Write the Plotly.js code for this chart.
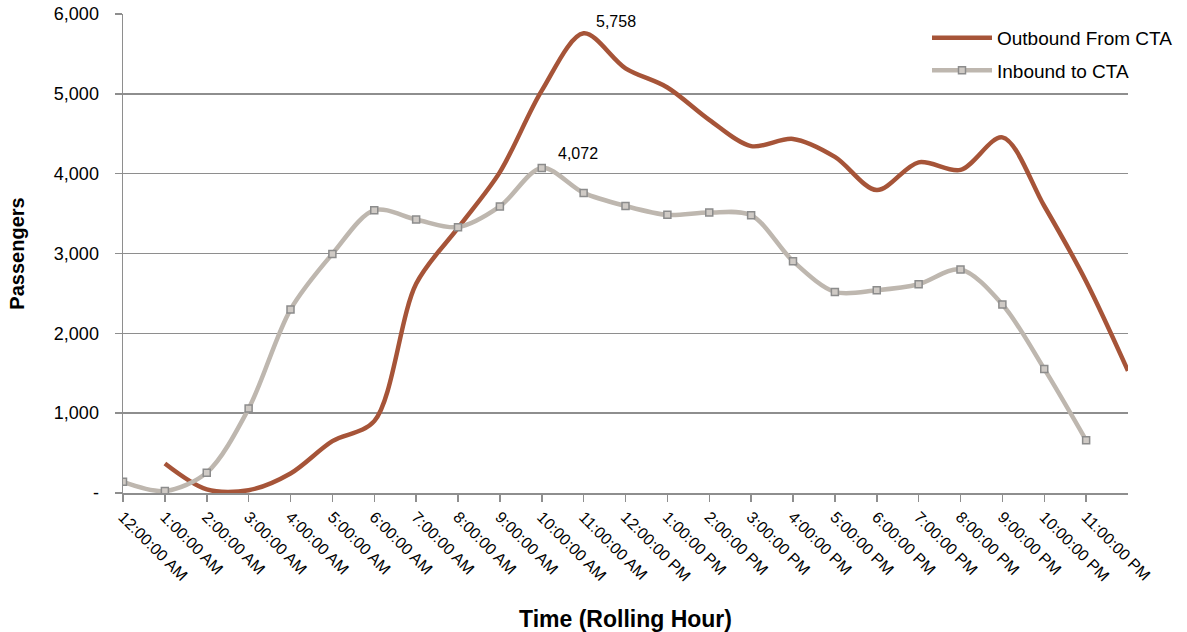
<!DOCTYPE html>
<html>
<head>
<meta charset="utf-8">
<script src="https://cdn.plot.ly/plotly-3.0.1.min.js"></script>
<style>
  html, body { margin: 0; padding: 0; background: #ffffff; }
  #chart { width: 1187px; height: 632px; }
</style>
</head>
<body>
<div id="chart"></div>
<script>
// Rolling-hour categories (x axis)
const timeLabels = [
  "12:00:00 AM", "1:00:00 AM", "2:00:00 AM", "3:00:00 AM", "4:00:00 AM", "5:00:00 AM",
  "6:00:00 AM", "7:00:00 AM", "8:00:00 AM", "9:00:00 AM", "10:00:00 AM", "11:00:00 AM",
  "12:00:00 PM", "1:00:00 PM", "2:00:00 PM", "3:00:00 PM", "4:00:00 PM", "5:00:00 PM",
  "6:00:00 PM", "7:00:00 PM", "8:00:00 PM", "9:00:00 PM", "10:00:00 PM", "11:00:00 PM"
];

// Inbound to CTA: one value per hour, starting at 12:00:00 AM
const inboundValues = [
  140, 25, 255, 1057, 2298, 2995, 3543, 3426, 3330, 3590, 4072, 3759,
  3596, 3484, 3514, 3480, 2904, 2519, 2540, 2615, 2800, 2361, 1554, 660
];

// Outbound From CTA: one value per hour, starting one hour later (1:00:00 AM)
const outboundValues = [
  370, 45, 35, 245, 650, 900, 2620, 3320, 4020, 5040, 5758, 5320,
  5080, 4675, 4345, 4435, 4210, 3795, 4142, 4047, 4455, 3595, 2650, 1530
];
const outboundStartHour = 1;

// Y-axis tick labels (accounting style, zero shown as a dash)
const yTickValues = [0, 1000, 2000, 3000, 4000, 5000, 6000];
const yTickLabels = ["-", "1,000", "2,000", "3,000", "4,000", "5,000", "6,000"];

const hourIndex = timeLabels.map((_, i) => i);
const inboundX = inboundValues.map((_, i) => i);
const outboundX = outboundValues.map((_, i) => i + outboundStartHour);

const FONT = "Liberation Sans, Arial, sans-serif";
const GRID = "#8E8E8E";

const outboundTrace = {
  x: outboundX, y: outboundValues,
  type: "scatter", mode: "lines",
  name: "Outbound From CTA",
  legendgroup: "a",
  line: { color: "#A65438", width: 4.5, shape: "spline", smoothing: 0.9 }
};

const inboundTrace = {
  x: inboundX, y: inboundValues,
  type: "scatter", mode: "lines+markers",
  name: "Inbound to CTA",
  legendgroup: "b",
  line: { color: "#BEB7AF", width: 4.5, shape: "spline", smoothing: 0.9 },
  marker: { symbol: "square", size: 7, color: "#CFCAC5", line: { color: "#8C8C8C", width: 1.5 } }
};

// Peak annotations computed from the data
function peakOf(xs, ys) {
  let k = 0;
  ys.forEach((v, i) => { if (v > ys[k]) k = i; });
  return { x: xs[k], y: ys[k] };
}
const outPeak = peakOf(outboundX, outboundValues);
const inPeak = peakOf(inboundX, inboundValues);
const fmt = v => v.toLocaleString("en-US");

const layout = {
  width: 1187, height: 632,
  paper_bgcolor: "#ffffff", plot_bgcolor: "#ffffff",
  margin: { l: 123, r: 59, t: 14, b: 139, autoexpand: false },
  font: { family: FONT, color: "#000000" },
  showlegend: true,
  legend: {
    x: 0.80, y: 0.99, xanchor: "left", yanchor: "top",
    font: { family: FONT, size: 19, color: "#000000" },
    bgcolor: "rgba(0,0,0,0)",
    itemwidth: 60,
    traceorder: "grouped", tracegroupgap: 5
  },
  xaxis: {
    type: "linear",
    range: [0, 24],
    automargin: false,
    tickmode: "array",
    tickvals: hourIndex,
    ticktext: timeLabels,
    tickangle: 45,
    ticks: "outside", ticklen: 7, tickwidth: 1.5, tickcolor: GRID,
    showline: true, linecolor: GRID, linewidth: 1.5,
    showgrid: false, zeroline: false,
    tickfont: { family: FONT, size: 16, color: "#000000" },
    title: { text: "<b>Time (Rolling Hour)</b>", font: { family: FONT, size: 23, color: "#000000" }, standoff: 28 },
    fixedrange: true
  },
  yaxis: {
    range: [0, 6000],
    automargin: false,
    tickmode: "array",
    tickvals: yTickValues,
    ticktext: yTickLabels,
    ticks: "outside", ticklen: 7, tickwidth: 1.5, tickcolor: GRID,
    showline: true, linecolor: GRID, linewidth: 1.5,
    showgrid: true, gridcolor: GRID, gridwidth: 1.5,
    zeroline: false,
    ticklabelstandoff: 12,
    tickfont: { family: FONT, size: 18, color: "#000000" },
    title: { text: "<b>Passengers</b>", font: { family: FONT, size: 20, color: "#000000" }, standoff: 24 },
    fixedrange: true
  },
  annotations: [
    { x: outPeak.x, y: outPeak.y, xref: "x", yref: "y", text: fmt(outPeak.y), showarrow: false,
      xshift: 32, yshift: 12, font: { family: FONT, size: 16, color: "#000000" } },
    { x: inPeak.x, y: inPeak.y, xref: "x", yref: "y", text: fmt(inPeak.y), showarrow: false,
      xshift: 36, yshift: 14, font: { family: FONT, size: 16, color: "#000000" } }
  ]
};

Plotly.newPlot("chart", [outboundTrace, inboundTrace], layout, { displayModeBar: false, staticPlot: true });
</script>
</body>
</html>
